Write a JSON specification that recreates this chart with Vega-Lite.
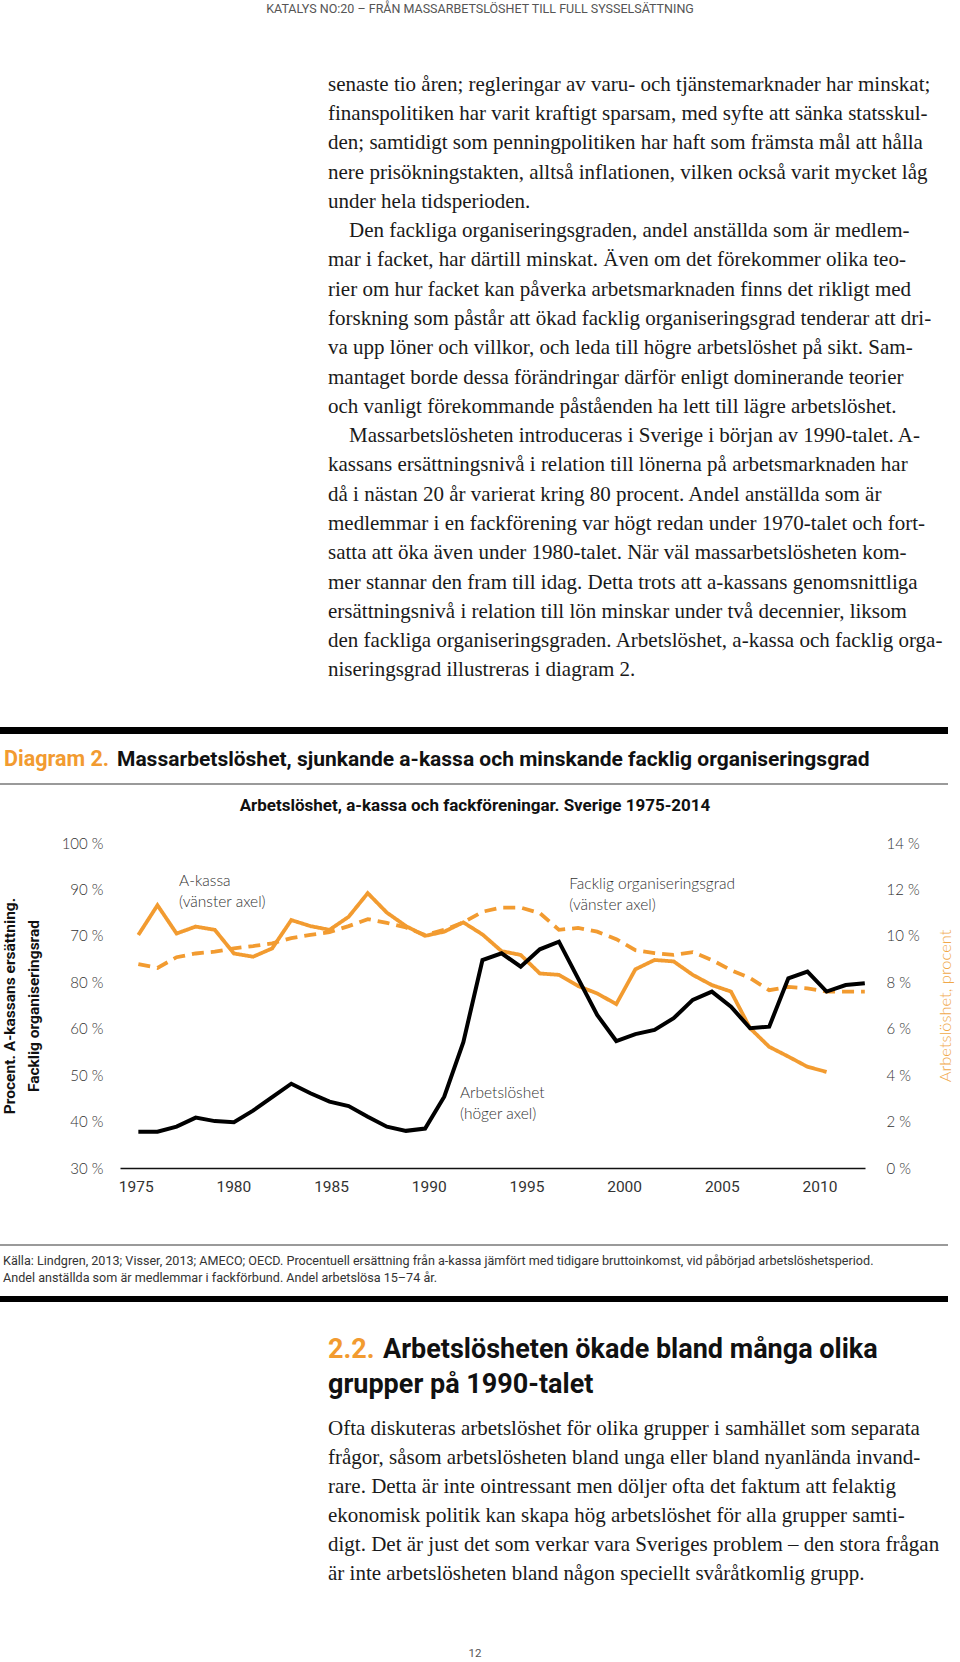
{
  "$schema": "https://vega.github.io/schema/vega-lite/v6.json",
  "padding": 0,
  "background": "white",
  "spacing": 0,
  "bounds": "flush",
  "config": {"view": {"stroke": null}, "axis": {"grid": false, "ticks": false}},
  "datasets": {
    "venster": [
      {"year":1975,"series":"A-kassa","value":80.2},{"year":1976,"series":"A-kassa","value":86.6},{"year":1977,"series":"A-kassa","value":80.5},{"year":1978,"series":"A-kassa","value":82.0},{"year":1979,"series":"A-kassa","value":81.3},{"year":1980,"series":"A-kassa","value":76.2},{"year":1981,"series":"A-kassa","value":75.5},{"year":1982,"series":"A-kassa","value":77.3},{"year":1983,"series":"A-kassa","value":83.4},{"year":1984,"series":"A-kassa","value":82.1},{"year":1985,"series":"A-kassa","value":81.3},{"year":1986,"series":"A-kassa","value":84.1},{"year":1987,"series":"A-kassa","value":89.2},{"year":1988,"series":"A-kassa","value":85.0},{"year":1989,"series":"A-kassa","value":82.1},{"year":1990,"series":"A-kassa","value":80.0},{"year":1991,"series":"A-kassa","value":80.9},{"year":1992,"series":"A-kassa","value":82.9},{"year":1993,"series":"A-kassa","value":80.3},{"year":1994,"series":"A-kassa","value":76.7},{"year":1995,"series":"A-kassa","value":75.9},{"year":1996,"series":"A-kassa","value":71.9},{"year":1997,"series":"A-kassa","value":71.6},{"year":1998,"series":"A-kassa","value":69.2},{"year":1999,"series":"A-kassa","value":67.6},{"year":2000,"series":"A-kassa","value":65.3},{"year":2001,"series":"A-kassa","value":72.8},{"year":2002,"series":"A-kassa","value":74.8},{"year":2003,"series":"A-kassa","value":74.5},{"year":2004,"series":"A-kassa","value":71.6},{"year":2005,"series":"A-kassa","value":69.4},{"year":2006,"series":"A-kassa","value":68.0},{"year":2007,"series":"A-kassa","value":60.1},{"year":2008,"series":"A-kassa","value":56.1},{"year":2009,"series":"A-kassa","value":54.0},{"year":2010,"series":"A-kassa","value":51.8},{"year":2011,"series":"A-kassa","value":50.7},
      {"year":1975,"series":"Facklig organiseringsgrad","value":73.9},{"year":1976,"series":"Facklig organiseringsgrad","value":73.1},{"year":1977,"series":"Facklig organiseringsgrad","value":75.4},{"year":1978,"series":"Facklig organiseringsgrad","value":76.2},{"year":1979,"series":"Facklig organiseringsgrad","value":76.6},{"year":1980,"series":"Facklig organiseringsgrad","value":77.3},{"year":1981,"series":"Facklig organiseringsgrad","value":77.8},{"year":1982,"series":"Facklig organiseringsgrad","value":78.4},{"year":1983,"series":"Facklig organiseringsgrad","value":79.5},{"year":1984,"series":"Facklig organiseringsgrad","value":80.2},{"year":1985,"series":"Facklig organiseringsgrad","value":80.8},{"year":1986,"series":"Facklig organiseringsgrad","value":82.1},{"year":1987,"series":"Facklig organiseringsgrad","value":83.6},{"year":1988,"series":"Facklig organiseringsgrad","value":82.8},{"year":1989,"series":"Facklig organiseringsgrad","value":81.8},{"year":1990,"series":"Facklig organiseringsgrad","value":80.2},{"year":1991,"series":"Facklig organiseringsgrad","value":81.3},{"year":1992,"series":"Facklig organiseringsgrad","value":82.9},{"year":1993,"series":"Facklig organiseringsgrad","value":85.2},{"year":1994,"series":"Facklig organiseringsgrad","value":86.1},{"year":1995,"series":"Facklig organiseringsgrad","value":86.1},{"year":1996,"series":"Facklig organiseringsgrad","value":84.9},{"year":1997,"series":"Facklig organiseringsgrad","value":81.3},{"year":1998,"series":"Facklig organiseringsgrad","value":81.7},{"year":1999,"series":"Facklig organiseringsgrad","value":80.9},{"year":2000,"series":"Facklig organiseringsgrad","value":79.3},{"year":2001,"series":"Facklig organiseringsgrad","value":76.9},{"year":2002,"series":"Facklig organiseringsgrad","value":76.3},{"year":2003,"series":"Facklig organiseringsgrad","value":75.9},{"year":2004,"series":"Facklig organiseringsgrad","value":76.5},{"year":2005,"series":"Facklig organiseringsgrad","value":74.8},{"year":2006,"series":"Facklig organiseringsgrad","value":72.6},{"year":2007,"series":"Facklig organiseringsgrad","value":70.9},{"year":2008,"series":"Facklig organiseringsgrad","value":68.3},{"year":2009,"series":"Facklig organiseringsgrad","value":69.0},{"year":2010,"series":"Facklig organiseringsgrad","value":68.7},{"year":2011,"series":"Facklig organiseringsgrad","value":68.0},{"year":2012,"series":"Facklig organiseringsgrad","value":68.0},{"year":2013,"series":"Facklig organiseringsgrad","value":68.0}
    ],
    "arbetsloshet": [
      {"year":1975,"value":1.56},{"year":1976,"value":1.56},{"year":1977,"value":1.78},{"year":1978,"value":2.17},{"year":1979,"value":2.02},{"year":1980,"value":1.97},{"year":1981,"value":2.47},{"year":1982,"value":3.05},{"year":1983,"value":3.63},{"year":1984,"value":3.22},{"year":1985,"value":2.86},{"year":1986,"value":2.67},{"year":1987,"value":2.21},{"year":1988,"value":1.78},{"year":1989,"value":1.6},{"year":1990,"value":1.7},{"year":1991,"value":3.07},{"year":1992,"value":5.42},{"year":1993,"value":8.96},{"year":1994,"value":9.25},{"year":1995,"value":8.67},{"year":1996,"value":9.42},{"year":1997,"value":9.75},{"year":1998,"value":8.17},{"year":1999,"value":6.59},{"year":2000,"value":5.47},{"year":2001,"value":5.77},{"year":2002,"value":5.95},{"year":2003,"value":6.45},{"year":2004,"value":7.24},{"year":2005,"value":7.6},{"year":2006,"value":6.95},{"year":2007,"value":6.02},{"year":2008,"value":6.09},{"year":2009,"value":8.17},{"year":2010,"value":8.46},{"year":2011,"value":7.6},{"year":2012,"value":7.88},{"year":2013,"value":7.96}
    ],
    "anteckningar": [
      {"label":"A-kassa","year":1977.13,"value":91.8},
      {"label":"(vänster axel)","year":1977.13,"value":87.3},
      {"label":"Facklig organiseringsgrad","year":1997.54,"value":91.2},
      {"label":"(vänster axel)","year":1997.54,"value":86.6},
      {"label":"Arbetslöshet","year":1991.82,"value":46.2},
      {"label":"(höger axel)","year":1991.82,"value":41.6}
    ]
  },
  "vconcat": [
    {
      "width": 960, "height": 70,
      "data": {"values": [{"t": "KATALYS NO:20 – FRÅN MASSARBETSLÖSHET TILL FULL SYSSELSÄTTNING"}]},
      "mark": {"type": "text", "x": 480, "y": 9, "align": "center", "baseline": "middle", "font": "Liberation Sans Narrow, Roboto", "fontSize": 12.5, "color": "#555"},
      "encoding": {"text": {"field": "t"}}
    },
    {
      "width": 960, "height": 615,
      "data": {"values": [
        {"n":1,"t":"senaste tio åren; regleringar av varu- och tjänstemarknader har minskat;"},
        {"n":2,"t":"finanspolitiken har varit kraftigt sparsam, med syfte att sänka statsskul-"},
        {"n":3,"t":"den; samtidigt som penningpolitiken har haft som främsta mål att hålla"},
        {"n":4,"t":"nere prisökningstakten, alltså inflationen, vilken också varit mycket låg"},
        {"n":5,"t":"under hela tidsperioden."},
        {"n":6,"stycke":true,"t":"Den fackliga organiseringsgraden, andel anställda som är medlem-"},
        {"n":7,"t":"mar i facket, har därtill minskat. Även om det förekommer olika teo-"},
        {"n":8,"t":"rier om hur facket kan påverka arbetsmarknaden finns det rikligt med"},
        {"n":9,"t":"forskning som påstår att ökad facklig organiseringsgrad tenderar att dri-"},
        {"n":10,"t":"va upp löner och villkor, och leda till högre arbetslöshet på sikt. Sam-"},
        {"n":11,"t":"mantaget borde dessa förändringar därför enligt dominerande teorier"},
        {"n":12,"t":"och vanligt förekommande påståenden ha lett till lägre arbetslöshet."},
        {"n":13,"stycke":true,"t":"Massarbetslösheten introduceras i Sverige i början av 1990-talet. A-"},
        {"n":14,"t":"kassans ersättningsnivå i relation till lönerna på arbetsmarknaden har"},
        {"n":15,"t":"då i nästan 20 år varierat kring 80 procent. Andel anställda som är"},
        {"n":16,"t":"medlemmar i en fackförening var högt redan under 1970-talet och fort-"},
        {"n":17,"t":"satta att öka även under 1980-talet. När väl massarbetslösheten kom-"},
        {"n":18,"t":"mer stannar den fram till idag. Detta trots att a-kassans genomsnittliga"},
        {"n":19,"t":"ersättningsnivå i relation till lön minskar under två decennier, liksom"},
        {"n":20,"t":"den fackliga organiseringsgraden. Arbetslöshet, a-kassa och facklig orga-"},
        {"n":21,"t":"niseringsgrad illustreras i diagram 2."}
      ]},
      "encoding": {
        "y": {"field": "n", "type": "ordinal", "axis": null, "scale": {"type": "point", "padding": 0.5}},
        "text": {"field": "t"}
      },
      "layer": [
        {"transform": [{"filter": "!datum.stycke"}], "mark": {"type": "text", "x": 328, "align": "left", "baseline": "middle", "font": "Liberation Serif", "fontSize": 21, "color": "#1a1a1a"}},
        {"transform": [{"filter": "datum.stycke"}], "mark": {"type": "text", "x": 349, "align": "left", "baseline": "middle", "font": "Liberation Serif", "fontSize": 21, "color": "#1a1a1a"}}
      ]
    },
    {"width": 960, "height": 42, "data": {"values": []}, "mark": "point"},
    {"width": 948, "height": 7, "view": {"fill": "#000000", "stroke": null}, "data": {"values": []}, "mark": "point"},
    {
      "width": 960, "height": 49,
      "layer": [
        {"data": {"values": [{"t": "Diagram 2."}]}, "mark": {"type": "text", "x": 4, "y": 26, "align": "left", "baseline": "middle", "font": "Roboto", "fontWeight": "bold", "fontSize": 21.5, "color": "#F29B30"}, "encoding": {"text": {"field": "t"}}},
        {"data": {"values": [{"t": "Massarbetslöshet, sjunkande a-kassa och minskande facklig organiseringsgrad"}]}, "mark": {"type": "text", "x": 117, "y": 26, "align": "left", "baseline": "middle", "font": "Roboto", "fontWeight": "bold", "fontSize": 21, "color": "#111"}, "encoding": {"text": {"field": "t"}}}
      ]
    },
    {"width": 948, "height": 2, "view": {"fill": "#9a9a9a", "stroke": null}, "data": {"values": []}, "mark": "point"},
    {
      "width": 960, "height": 58,
      "data": {"values": [{"t": "Arbetslöshet, a-kassa och fackföreningar. Sverige 1975-2014"}]},
      "mark": {"type": "text", "x": 475, "y": 21, "align": "center", "baseline": "middle", "font": "Roboto", "fontWeight": "bold", "fontSize": 17, "color": "#111"},
      "encoding": {"text": {"field": "t"}}
    },
    {
      "width": 960, "height": 325,
      "encoding": {
        "x": {"field": "year", "type": "quantitative",
          "scale": {"domain": [1974.04, 2013.01], "range": [120, 865], "nice": false, "zero": false},
          "axis": {"orient": "bottom", "values": [1974.86, 1979.97, 1985.08, 1990.19, 1995.3, 2000.41, 2005.52, 2010.63], "labelExpr": "'' + (1975 + 5 * round((datum.value - 1975) / 5))", "domain": true, "domainColor": "#111", "domainWidth": 1.3, "ticks": false, "grid": false, "labelPadding": 11, "labelFont": "Liberation Sans Narrow, Roboto", "labelFontSize": 15.5, "labelColor": "#333", "labelFlush": false, "labelOverlap": false, "title": null}
        }
      },
      "layer": [
        {
          "data": {"name": "venster"},
          "encoding": {
            "y": {"field": "value", "type": "quantitative",
              "scale": {"domain": [30, 100], "nice": false, "zero": false},
              "axis": {"orient": "left", "offset": -120, "values": [30, 40, 50, 60, 70, 80, 90, 100], "labelExpr": "datum.value == 70 ? '80 %' : (datum.value == 80 ? '70 %' : datum.value + ' %')", "domain": false, "ticks": false, "grid": false, "labelPadding": 17, "labelFont": "Lato", "labelFontSize": 15, "labelFontWeight": 300, "labelColor": "#333", "labelFlush": false, "labelOverlap": false, "title": ["Procent. A-kassans ersättning.", "Facklig organiseringsrad"], "titleFont": "Roboto", "titleFontSize": 15.5, "titleFontWeight": "bold", "titleColor": "#111", "titleLineHeight": 24, "titlePadding": 20}
            }
          },
          "layer": [
            {
              "mark": {"type": "line", "strokeWidth": 3.8, "strokeJoin": "miter"},
              "encoding": {
                "color": {"field": "series", "type": "nominal", "scale": {"domain": ["A-kassa", "Facklig organiseringsgrad"], "range": ["#F29B30", "#F29B30"]}, "legend": null},
                "strokeDash": {"field": "series", "type": "nominal", "scale": {"domain": ["A-kassa", "Facklig organiseringsgrad"], "range": [[1, 0], [12, 7]]}, "legend": null}
              }
            },
            {
              "data": {"name": "anteckningar"},
              "mark": {"type": "text", "align": "left", "baseline": "middle", "font": "Lato", "fontWeight": 300, "fontSize": 15.5, "color": "#333"},
              "encoding": {"text": {"field": "label"}}
            }
          ]
        },
        {
          "data": {"name": "arbetsloshet"},
          "mark": {"type": "line", "color": "#000", "strokeWidth": 4, "strokeJoin": "miter"},
          "encoding": {
            "y": {"field": "value", "type": "quantitative",
              "scale": {"domain": [0, 14], "nice": false, "zero": false},
              "axis": {"orient": "right", "offset": -95, "values": [0, 2, 4, 6, 8, 10, 12, 14], "labelExpr": "datum.value + ' %'", "domain": false, "ticks": false, "grid": false, "labelPadding": 21, "labelFont": "Lato", "labelFontSize": 15, "labelFontWeight": 300, "labelColor": "#333", "labelFlush": false, "labelOverlap": false, "title": "Arbetslöshet, procent", "titleFont": "Lato", "titleFontSize": 16.5, "titleFontWeight": 300, "titleColor": "#F0A848", "titleAngle": 270, "titlePadding": 34}
            }
          }
        }
      ],
      "resolve": {"scale": {"y": "independent"}}
    },
    {"width": 960, "height": 76, "data": {"values": []}, "mark": "point"},
    {"width": 948, "height": 2, "view": {"fill": "#9a9a9a", "stroke": null}, "data": {"values": []}, "mark": "point"},
    {"width": 960, "height": 5.5, "data": {"values": []}, "mark": "point"},
    {
      "width": 960, "height": 34,
      "data": {"values": [
        {"n": 1, "t": "Källa: Lindgren, 2013; Visser, 2013; AMECO; OECD. Procentuell ersättning från a-kassa jämfört med tidigare bruttoinkomst, vid påbörjad arbetslöshetsperiod."},
        {"n": 2, "t": "Andel anställda som är medlemmar i fackförbund. Andel arbetslösa 15–74 år."}
      ]},
      "mark": {"type": "text", "x": 3, "align": "left", "baseline": "middle", "font": "Liberation Sans Narrow, Roboto", "fontSize": 12.6, "color": "#333"},
      "encoding": {
        "y": {"field": "n", "type": "ordinal", "axis": null, "scale": {"type": "point", "padding": 0.5}},
        "text": {"field": "t"}
      }
    },
    {"width": 960, "height": 10, "data": {"values": []}, "mark": "point"},
    {"width": 948, "height": 6, "view": {"fill": "#000000", "stroke": null}, "data": {"values": []}, "mark": "point"},
    {"width": 960, "height": 30, "data": {"values": []}, "mark": "point"},
    {
      "width": 960, "height": 70,
      "data": {"values": [
        {"n": 1, "part": "nummer", "t": "2.2."},
        {"n": 1, "part": "rubrik", "t": "Arbetslösheten ökade bland många olika"},
        {"n": 2, "part": "rad2", "t": "grupper på 1990-talet"}
      ]},
      "encoding": {
        "y": {"field": "n", "type": "ordinal", "axis": null, "scale": {"type": "point", "padding": 0.5, "domain": [1, 2]}},
        "text": {"field": "t"}
      },
      "layer": [
        {"transform": [{"filter": "datum.part == 'nummer'"}], "mark": {"type": "text", "x": 328, "align": "left", "baseline": "middle", "font": "Roboto", "fontWeight": "bold", "fontSize": 27, "color": "#F29B30"}},
        {"transform": [{"filter": "datum.part == 'rubrik'"}], "mark": {"type": "text", "x": 383, "align": "left", "baseline": "middle", "font": "Roboto", "fontWeight": "bold", "fontSize": 27, "color": "#111"}},
        {"transform": [{"filter": "datum.part == 'rad2'"}], "mark": {"type": "text", "x": 328, "align": "left", "baseline": "middle", "font": "Roboto", "fontWeight": "bold", "fontSize": 27, "color": "#111"}}
      ]
    },
    {"width": 960, "height": 12, "data": {"values": []}, "mark": "point"},
    {
      "width": 960, "height": 174,
      "data": {"values": [
        {"n": 1, "t": "Ofta diskuteras arbetslöshet för olika grupper i samhället som separata"},
        {"n": 2, "t": "frågor, såsom arbetslösheten bland unga eller bland nyanlända invand-"},
        {"n": 3, "t": "rare. Detta är inte ointressant men döljer ofta det faktum att felaktig"},
        {"n": 4, "t": "ekonomisk politik kan skapa hög arbetslöshet för alla grupper samti-"},
        {"n": 5, "t": "digt. Det är just det som verkar vara Sveriges problem – den stora frågan"},
        {"n": 6, "t": "är inte arbetslösheten bland någon speciellt svåråtkomlig grupp."}
      ]},
      "mark": {"type": "text", "x": 328, "align": "left", "baseline": "middle", "font": "Liberation Serif", "fontSize": 21, "color": "#1a1a1a"},
      "encoding": {
        "y": {"field": "n", "type": "ordinal", "axis": null, "scale": {"type": "point", "padding": 0.5}},
        "text": {"field": "t"}
      }
    },
    {
      "width": 960, "height": 74.5,
      "data": {"values": [{"t": "12"}]},
      "mark": {"type": "text", "x": 475, "y": 65.5, "align": "center", "baseline": "middle", "font": "Liberation Sans Narrow, Roboto", "fontSize": 11.5, "color": "#555"},
      "encoding": {"text": {"field": "t"}}
    }
  ]
}
